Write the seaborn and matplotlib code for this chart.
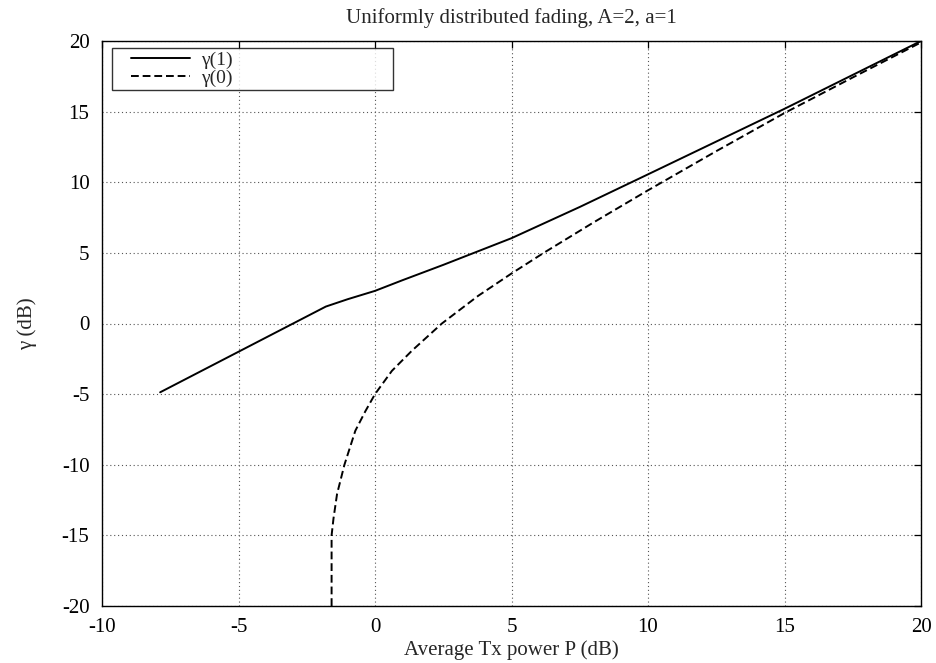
import matplotlib
matplotlib.use("Agg")
import matplotlib.pyplot as plt
from matplotlib.lines import Line2D
from matplotlib.legend_handler import HandlerLine2D
import seaborn as sns
import pandas as pd

# gamma(1) curve
p_g1 = [-7.87, -1.8, -1.0, 0.0, 1.0, 2.5, 3.81, 5.0, 7.5, 10.0, 12.5, 15.0, 17.5, 20.0]
g1 = [-4.87, 1.2, 1.72, 2.31, 3.06, 4.15, 5.14, 6.04, 8.25, 10.56, 12.88, 15.2, 17.6, 20.0]

# gamma(0) curve
p_g0 = [-1.59, -1.59, -1.52, -1.39, -1.12, -0.72, -0.35, 0.0, 0.62, 1.35, 2.45,
        3.78, 5.0, 6.18, 8.0, 10.0, 12.5, 15.0, 17.5, 20.0]
g0 = [-20.0, -15.0, -13.8, -12.07, -10.0, -7.59, -6.2, -5.0, -3.35, -1.93, 0.0,
      1.96, 3.54, 5.0, 7.15, 9.43, 12.2, 14.9, 17.42, 19.9]

x_ticks = [-10, -5, 0, 5, 10, 15, 20]
y_ticks = [-20, -15, -10, -5, 0, 5, 10, 15, 20]

title = "Uniformly distributed fading, A=2, a=1"
xlabel = "Average Tx power P (dB)"
ylabel = "\u03b3 (dB)"
labels = ["\u03b3(1)", "\u03b3(0)"]

sns.set_style("white")
plt.rcParams["font.family"] = ["Liberation Serif", "DejaVu Serif"]

FS = 15

fig = plt.figure(figsize=(9.36, 6.63), dpi=100)
ax = fig.add_axes([102 / 936, 1 - 606 / 663, 819 / 936, 565 / 663])

df1 = pd.DataFrame({"P": p_g1, "g": g1})
df0 = pd.DataFrame({"P": p_g0, "g": g0})
sns.lineplot(data=df1, x="P", y="g", ax=ax, sort=False, estimator=None,
             color="black", linewidth=1.4, label=labels[0])
sns.lineplot(data=df0, x="P", y="g", ax=ax, sort=False, estimator=None,
             color="black", linewidth=1.4, label=labels[1])
ax.lines[1].set_dashes([4, 2])

ax.set_xlim(-10, 20)
ax.set_ylim(-20, 20)
ax.set_xticks(x_ticks)
ax.set_yticks(y_ticks)
ax.set_xticklabels([str(t) for t in x_ticks])
ax.set_yticklabels([str(t) for t in y_ticks])
ax.tick_params(direction="in", length=5, width=0.9, top=True, right=True,
               labelsize=FS, colors="black")
ax.tick_params(axis="y", pad=9)
ax.tick_params(axis="x", pad=9)
ax.grid(True, linestyle=(0, (1, 2.5)), color="#555555", linewidth=0.8)
for s in ax.spines.values():
    s.set_color("black")
    s.set_linewidth(1.0)

ax.set_title(title, fontsize=FS, pad=13)
ax.set_xlabel(xlabel, fontsize=FS, labelpad=2)
ax.set_ylabel(ylabel, fontsize=FS, labelpad=18)

leg = ax.legend(loc="upper left", bbox_to_anchor=(0.0122, 0.5, 0.343, 0.4876),
                mode="expand", fontsize=14, frameon=True, fancybox=False,
                handlelength=3.85, handletextpad=0.6, borderpad=0.15,
                labelspacing=0.05, borderaxespad=0,
                handler_map={Line2D: HandlerLine2D(xpad=0.82)})
leg.get_frame().set_edgecolor("black")
leg.get_frame().set_linewidth(1.0)
leg.get_lines()[1].set_dashes([4, 2])

fig.savefig("out.png", dpi=100)
